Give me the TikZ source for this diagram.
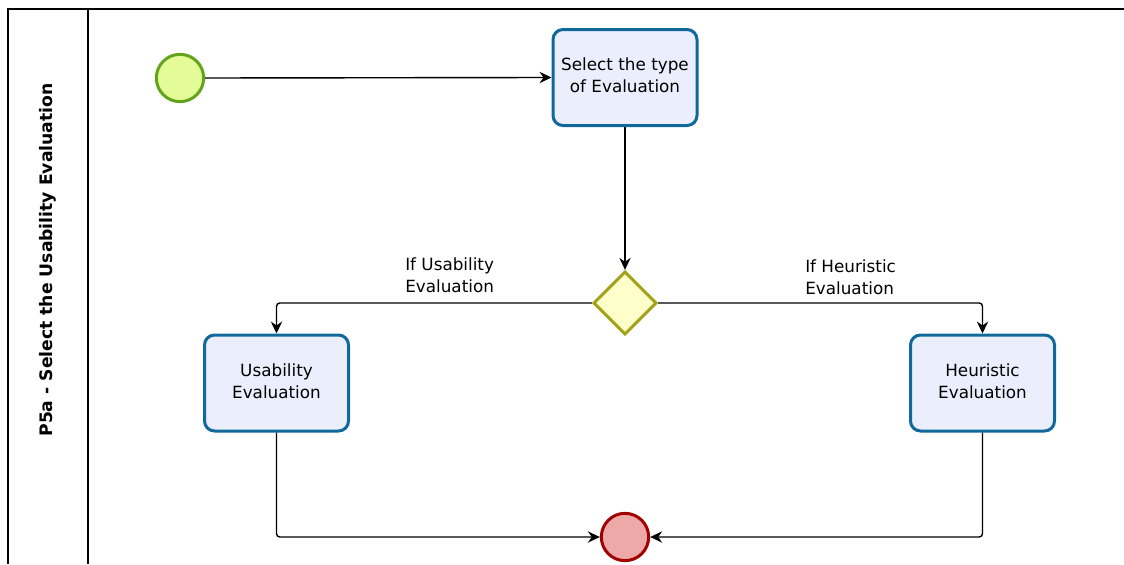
\documentclass[tikz,border=0pt]{standalone}
\usepackage{fontspec}
\setmainfont{DejaVu Sans}
\usetikzlibrary{shapes.geometric,arrows.meta}

\definecolor{taskfill}{HTML}{EBEEFC}
\definecolor{taskline}{HTML}{10699A}
\definecolor{gwfill}{HTML}{FFFFCC}
\definecolor{gwline}{HTML}{A3A319}
\definecolor{startfill}{HTML}{E3FC98}
\definecolor{startline}{HTML}{64A41C}
\definecolor{endfill}{HTML}{EDA8A8}
\definecolor{endline}{HTML}{A00000}

\tikzset{
  every node/.style={font=\fontsize{12.6}{16.5}\selectfont, inner sep=0pt},
  taskbox/.style={draw=taskline, fill=taskfill, line width=2.25pt,
    rounded corners=7.5pt, minimum width=108pt, minimum height=72pt,
    text depth=3pt, align=center},
  gateway/.style={diamond, draw=gwline, fill=gwfill, line width=2.25pt,
    minimum width=47.5pt, minimum height=47.5pt},
  startev/.style={circle, draw=startline, fill=startfill, line width=2.25pt,
    minimum size=35.5pt},
  endev/.style={circle, draw=endline, fill=endfill, line width=2.25pt,
    minimum size=35.5pt},
  flow/.style={draw=black, line width=1.05pt, rounded corners=2.5pt,
    -{Stealth[length=9pt, width=8.5pt, inset=3pt]}},
  lane/.style={draw=black, line width=1.1pt},
  cond/.style={align=left, anchor=west}
}

\begin{document}
\begin{tikzpicture}[x=0.75pt, y=-0.75pt]
  \useasboundingbox (0,0) rectangle (1124,564);

  % pool frame and lane header
  \draw[lane] (8,564) -- (8,9) -- (1124,9);
  \draw[lane] (88,9) -- (88,564);
  \node[rotate=90, font=\fontsize{12.9}{16.5}\selectfont\bfseries] (lanetitle) at (48,260)
    {P5a - Select the Usability Evaluation};

  % events, tasks and gateway
  \node[startev] (start) at (180,78) {};
  \node[taskbox] (select) at (625,77.5) {Select the type\\of Evaluation};
  \node[gateway] (gw) at (625,303) {};
  \node[taskbox] (usab) at (276.5,383) {Usability\\Evaluation};
  \node[taskbox] (heur) at (982.5,383) {Heuristic\\Evaluation};
  \node[endev] (finish) at (625,537) {};

  % condition labels
  \node[cond] (lblU) at (405,275.5) {If Usability\\Evaluation};
  \node[cond] (lblH) at (805,277.5) {If Heuristic\\Evaluation};

  % sequence flows
  \draw[flow] (start.east) -- (select.west);
  \draw[flow] (select.south) -- (gw.north);
  \draw[flow] (gw.west) -| (usab.north);
  \draw[flow] (gw.east) -| (heur.north);
  \draw[flow] (usab.south) |- (finish.west);
  \draw[flow] (heur.south) |- (finish.east);
\end{tikzpicture}
\end{document}
